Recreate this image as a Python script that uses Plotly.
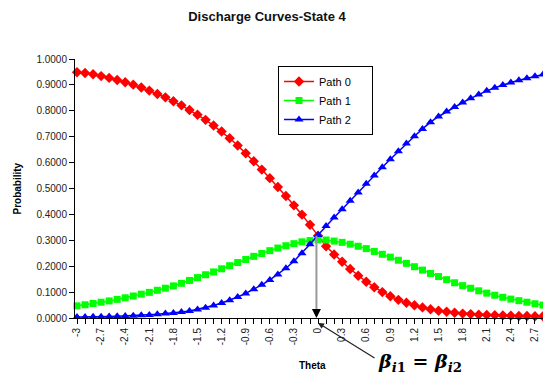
import plotly.graph_objects as go

theta = [-3.0, -2.9, -2.8, -2.7, -2.6, -2.5, -2.4, -2.3, -2.2, -2.1,
         -2.0, -1.9, -1.8, -1.7, -1.6, -1.5, -1.4, -1.3, -1.2, -1.1,
         -1.0, -0.9, -0.8, -0.7, -0.6, -0.5, -0.4, -0.3, -0.2, -0.1,
         0.0, 0.1, 0.2, 0.3, 0.4, 0.5, 0.6, 0.7, 0.8, 0.9,
         1.0, 1.1, 1.2, 1.3, 1.4, 1.5, 1.6, 1.7, 1.8, 1.9,
         2.0, 2.1, 2.2, 2.3, 2.4, 2.5, 2.6, 2.7, 2.8, 2.9, 3.0]

path0 = [0.949, 0.946, 0.941, 0.934, 0.927, 0.919, 0.910, 0.901, 0.890, 0.878,
         0.865, 0.852, 0.837, 0.821, 0.803, 0.785, 0.765, 0.743, 0.720, 0.694,
         0.666, 0.636, 0.605, 0.573, 0.540, 0.506, 0.471, 0.435, 0.399, 0.360,
         0.318, 0.277, 0.245, 0.217, 0.189, 0.163, 0.140, 0.119, 0.100, 0.084,
         0.070, 0.059, 0.049, 0.041, 0.034, 0.028, 0.024, 0.020, 0.017, 0.015,
         0.013, 0.012, 0.011, 0.010, 0.009, 0.008, 0.008, 0.007, 0.007, 0.006, 0.006]

path1 = [0.047, 0.051, 0.056, 0.061, 0.066, 0.072, 0.078, 0.085, 0.092, 0.099,
         0.107, 0.115, 0.124, 0.134, 0.145, 0.156, 0.167, 0.178, 0.190, 0.202,
         0.214, 0.226, 0.238, 0.249, 0.260, 0.270, 0.279, 0.287, 0.294, 0.299,
         0.302, 0.301, 0.297, 0.292, 0.285, 0.277, 0.268, 0.257, 0.246, 0.235,
         0.223, 0.211, 0.198, 0.185, 0.172, 0.160, 0.148, 0.136, 0.125, 0.115,
         0.105, 0.096, 0.088, 0.080, 0.073, 0.067, 0.061, 0.055, 0.050, 0.046, 0.042]

path2 = [0.004, 0.004, 0.005, 0.005, 0.006, 0.007, 0.008, 0.009, 0.011, 0.012,
         0.014, 0.017, 0.019, 0.023, 0.027, 0.033, 0.040, 0.048, 0.058, 0.069,
         0.081, 0.095, 0.111, 0.128, 0.147, 0.168, 0.192, 0.219, 0.250, 0.285,
         0.320, 0.355, 0.388, 0.420, 0.453, 0.485, 0.518, 0.550, 0.582, 0.613,
         0.644, 0.674, 0.702, 0.730, 0.756, 0.778, 0.797, 0.815, 0.832, 0.848,
         0.863, 0.877, 0.889, 0.900, 0.909, 0.918, 0.926, 0.933, 0.940, 0.946, 0.951]

tick_vals = [-3.0, -2.7, -2.4, -2.1, -1.8, -1.5, -1.2, -0.9, -0.6, -0.3,
             0.0, 0.3, 0.6, 0.9, 1.2, 1.5, 1.8, 2.1, 2.4, 2.7]
tick_text = ["-3", "-2.7", "-2.4", "-2.1", "-1.8", "-1.5", "-1.2", "-0.9", "-0.6", "-0.3",
             "0", "0.3", "0.6", "0.9", "1.2", "1.5", "1.8", "2.1", "2.4", "2.7"]

series_names = ["Path 0", "Path 1", "Path 2"]
series_colors = ["#FF0000", "#00FF00", "#0000FF"]
series_symbols = ["diamond", "square", "triangle-up"]
series_sizes = [8, 7, 8]

FONT = "Liberation Sans, Arial, sans-serif"
PAD = "\u00a0" * 5

fig = go.Figure()
for name, vals, col, sym, sz in zip(series_names, [path0, path1, path2], series_colors,
                                    series_symbols, series_sizes):
    fig.add_trace(go.Scatter(
        x=theta, y=vals, name=name + PAD, mode="lines+markers",
        line=dict(color=col, width=1.5),
        marker=dict(symbol=sym, size=sz, color=col, line=dict(width=0)),
        cliponaxis=False,
    ))

fig.update_layout(
    width=543, height=377,
    margin=dict(l=75, r=0, t=59, b=59),
    paper_bgcolor="white", plot_bgcolor="white",
    font=dict(family=FONT, size=10, color="black"),
    title=dict(text="<b>Discharge Curves-State 4</b>", x=267 / 543, xref="container",
               xanchor="center", y=1 - 16 / 377, yref="container", yanchor="middle",
               font=dict(family=FONT, size=13, color="#111111")),
    showlegend=True,
    legend=dict(x=(278 - 75) / 468, y=(318 - 66) / 259, xanchor="left", yanchor="top",
                bordercolor="black", borderwidth=1, bgcolor="white",
                font=dict(family=FONT, size=11, color="black"),
                tracegroupgap=0, itemwidth=30),
)

fig.update_xaxes(
    range=[-3.025, 2.80], showgrid=False, zeroline=False,
    showline=True, linecolor="black", linewidth=1,
    tickmode="array", tickvals=tick_vals, ticktext=tick_text,
    tickangle=-90, ticks="outside", ticklen=5, tickcolor="black",
    tickfont=dict(family=FONT, size=10, color="#222222"),
    minor=dict(dtick=0.1, tick0=-3.0, ticks="outside", ticklen=5, tickcolor="black", showgrid=False),
)
fig.update_yaxes(
    range=[0, 1.0], showgrid=False, zeroline=False,
    showline=True, linecolor="black", linewidth=1,
    tickmode="linear", tick0=0, dtick=0.1, tickformat=".4f",
    ticks="outside", ticklen=5, tickcolor="black",
    tickfont=dict(family=FONT, size=10, color="#222222"),
)

# Axis titles as annotations
fig.add_annotation(text="<b>Probability</b>", textangle=-90, xref="paper", yref="paper",
                   x=(17 - 75) / 468, y=0.5, xanchor="center", yanchor="middle", showarrow=False,
                   font=dict(family=FONT, size=10, color="black"))
fig.add_annotation(text="<b>Theta</b>", xref="paper", yref="paper",
                   x=(312 - 75) / 468, y=(318 - 365) / 259, xanchor="center", yanchor="middle",
                   showarrow=False, font=dict(family=FONT, size=10, color="black"))

# vertical gray line from the crossing point down to the axis
fig.add_shape(type="line", xref="x", yref="y", x0=-0.02, x1=-0.02, y0=0.318, y1=0.02,
              line=dict(color="#999999", width=2))
fig.add_annotation(x=-0.02, y=0.0, xref="x", yref="y", ax=0, ay=-10, text="",
                   showarrow=True, arrowhead=2, arrowsize=1.2, arrowwidth=1.5, arrowcolor="black")

# arrow from the beta label to the crossing on the axis
fig.add_annotation(x=0.0, y=-5 / 259, xref="x", yref="paper", ax=58, ay=36, text="",
                   showarrow=True, arrowhead=2, arrowsize=1, arrowwidth=1.2, arrowcolor="#222222")
fig.add_annotation(text="<b><i>β</i><sub><i>i</i>1</sub> = <i>β</i><sub><i>i</i>2</sub></b>",
                   xref="paper", yref="paper", x=(420 - 75) / 468, y=(318 - 362) / 259,
                   xanchor="center", yanchor="middle",
                   showarrow=False, font=dict(family="DejaVu Serif, serif", size=19, color="black"))

fig.write_html("out.html", config={"displayModeBar": False},
               post_script="document.body.style.margin='0';")
